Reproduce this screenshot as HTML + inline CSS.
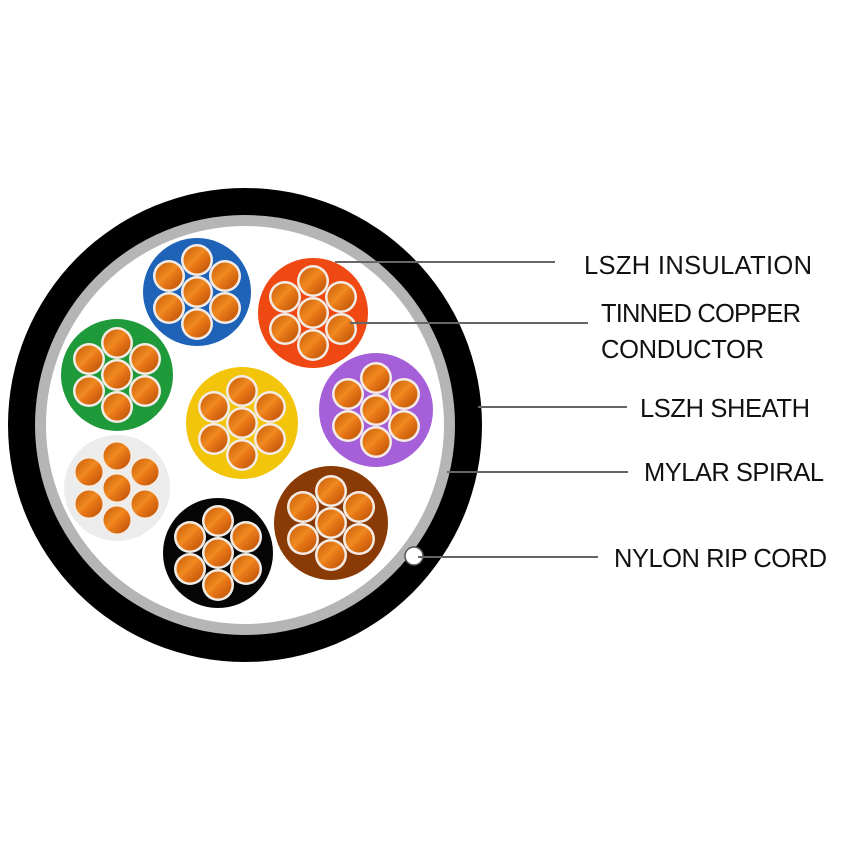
<!DOCTYPE html><html><head><style>body{margin:0;background:#fff}svg{display:block}text{font-family:"Liberation Sans",sans-serif;font-size:25.5px;fill:#111}</style></head><body>
<svg width="850" height="850" viewBox="0 0 850 850">
<defs>
<linearGradient id="cu" x1="0" y1="0" x2="1" y2="1">
<stop offset="0" stop-color="#c85a08"/><stop offset="0.45" stop-color="#f08a20"/><stop offset="0.55" stop-color="#e87818"/><stop offset="1" stop-color="#b84e05"/></linearGradient>
<g id="st"><circle r="16" fill="#f3ece6"/><circle r="13.5" fill="url(#cu)"/></g>
<g id="k">
<use href="#st"/><use href="#st" x="0" y="-32"/><use href="#st" x="0" y="32"/>
<use href="#st" x="28" y="-16"/><use href="#st" x="28" y="16"/>
<use href="#st" x="-28" y="-16"/><use href="#st" x="-28" y="16"/>
</g>
</defs>
<circle cx="245" cy="425" r="237" fill="#000"/>
<circle cx="245" cy="425" r="210" fill="#b5b5b5"/>
<circle cx="245" cy="425" r="199" fill="#fff"/>
<g>
<circle cx="197" cy="292" r="54" fill="#1e63b8"/><use href="#k" x="197" y="292"/>
<circle cx="313" cy="313" r="55" fill="#f04812"/><use href="#k" x="313" y="313"/>
<circle cx="117" cy="375" r="56" fill="#1e9a3a"/><use href="#k" x="117" y="375"/>
<circle cx="242" cy="423" r="56" fill="#f2c40a"/><use href="#k" x="242" y="423"/>
<circle cx="376" cy="410" r="57" fill="#a55fd8"/><use href="#k" x="376" y="410"/>
<circle cx="117" cy="488" r="53" fill="#ececec"/><use href="#k" x="117" y="488"/>
<circle cx="331" cy="523" r="57" fill="#8a3a05"/><use href="#k" x="331" y="523"/>
<circle cx="218" cy="553" r="55" fill="#050505"/><use href="#k" x="218" y="553"/>
</g>
<circle cx="414" cy="556" r="9" fill="#fff" stroke="#555" stroke-width="1.5"/>
<g stroke="#666" stroke-width="2">
<line x1="335" y1="262" x2="555" y2="262"/>
<line x1="350" y1="323" x2="588" y2="323"/>
<line x1="478" y1="407" x2="627" y2="407"/>
<line x1="447" y1="472" x2="628" y2="472"/>
<line x1="418" y1="557" x2="598" y2="557"/>
</g>
<text x="584" y="274" textLength="228">LSZH INSULATION</text>
<text x="601" y="322" textLength="200">TINNED COPPER</text>
<text x="601" y="358" textLength="163">CONDUCTOR</text>
<text x="640" y="417" textLength="170">LSZH SHEATH</text>
<text x="644" y="481" textLength="180">MYLAR SPIRAL</text>
<text x="614" y="567" textLength="213">NYLON RIP CORD</text>
</svg></body></html>
